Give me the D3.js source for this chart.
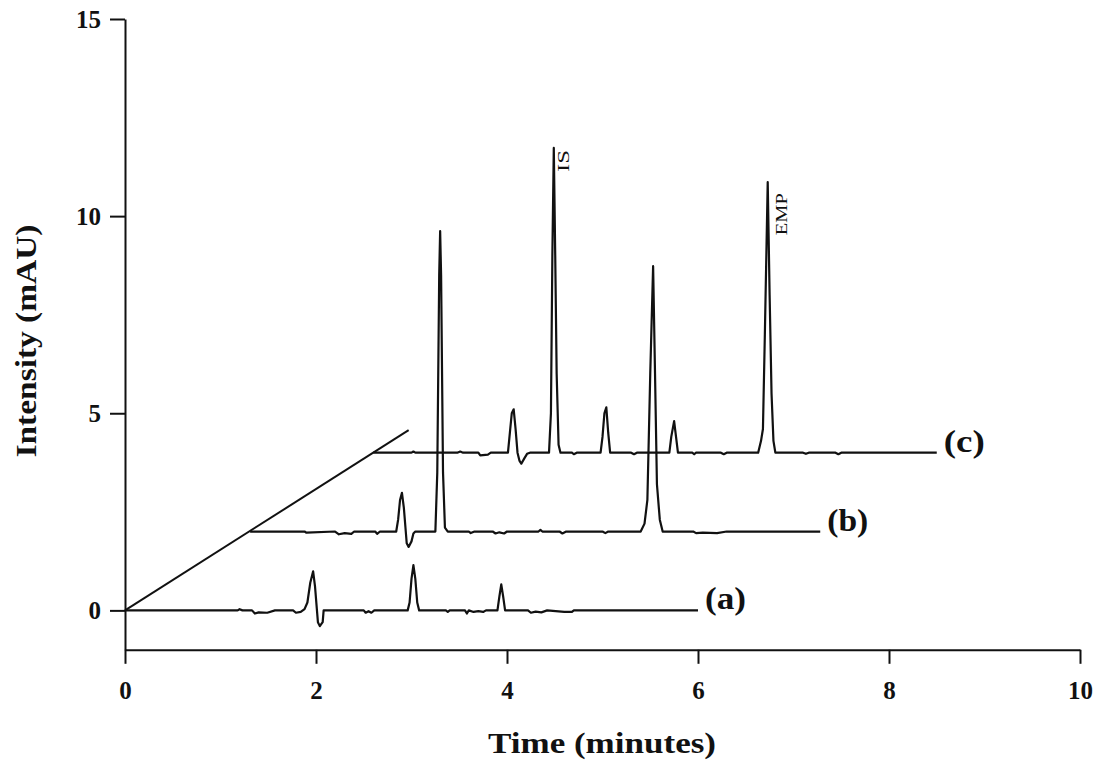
<!DOCTYPE html>
<html>
<head>
<meta charset="utf-8">
<script src="https://cdn.jsdelivr.net/npm/d3@7"></script>
<style>
  body { margin: 0; background: #fff; }
  svg text { font-family: "Liberation Serif", "Times New Roman", serif; }
</style>
</head>
<body>
<div id="chart"></div>
<script>
// chromatogram traces, plotted position [time (min), intensity (mAU)]
var traceA = [
    [0, 0], [1.18, 0], [1.2, 0.03], [1.23, 0], [1.33, 0], [1.36, -0.08], [1.4, -0.05],
    [1.49, -0.06], [1.57, 0], [1.76, 0], [1.79, -0.06], [1.84, -0.04], [1.88, 0.03],
    [1.91, 0.2], [1.94, 0.7], [1.97, 0.99], [1.99, 0.6], [2.01, 0], [2.02, -0.3],
    [2.04, -0.4], [2.07, -0.3], [2.08, 0], [2.5, 0], [2.52, -0.06], [2.55, -0.02],
    [2.58, -0.06], [2.61, 0], [2.96, 0], [2.98, 0.2], [3.0, 0.8], [3.02, 1.15],
    [3.04, 0.8], [3.06, 0.2], [3.08, 0], [3.36, 0], [3.38, -0.04], [3.4, 0],
    [3.56, 0], [3.58, -0.08], [3.6, 0], [3.65, -0.04], [3.7, -0.02], [3.75, -0.04],
    [3.78, 0], [3.9, 0], [3.92, 0.35], [3.94, 0.66], [3.96, 0.35], [3.98, 0],
    [4.22, 0], [4.25, -0.06], [4.3, -0.03], [4.36, -0.05], [4.42, 0], [4.6, -0.04],
    [4.68, -0.04], [4.7, 0], [6.0, 0]
];

var traceB = [
    [1.31, 2], [1.88, 2], [1.9, 1.97], [2.2, 2], [2.24, 1.93], [2.3, 1.96], [2.37, 1.94],
    [2.4, 2], [2.62, 2], [2.64, 1.94], [2.67, 2], [2.84, 2], [2.86, 2.3], [2.88, 2.8],
    [2.9, 2.98], [2.92, 2.6], [2.94, 2.0], [2.95, 1.7], [2.97, 1.61], [3.0, 1.75],
    [3.02, 1.95], [3.04, 2], [3.25, 2], [3.27, 3.5], [3.29, 8.5], [3.3, 9.62],
    [3.31, 8.5], [3.33, 3.5], [3.35, 2.1], [3.38, 2], [3.6, 2], [3.62, 1.96],
    [3.66, 2], [3.85, 2], [3.88, 1.95], [3.92, 1.98], [3.97, 1.95], [4.0, 2],
    [4.33, 2], [4.35, 2.04], [4.37, 2], [4.55, 2], [4.58, 1.95], [4.62, 2],
    [5.0, 2], [5.03, 1.96], [5.06, 2], [5.4, 2], [5.44, 2.2], [5.47, 2.8],
    [5.5, 6.0], [5.53, 8.73], [5.55, 6.0], [5.57, 3.2], [5.6, 2.3], [5.63, 2],
    [5.95, 2], [5.98, 1.96], [6.05, 1.97], [6.2, 1.96], [6.3, 2], [7.28, 2]
];

var traceC = [
    [2.6, 4], [3.0, 4], [3.02, 4.03], [3.04, 4], [3.48, 4], [3.51, 4.03], [3.54, 4],
    [3.7, 4], [3.72, 3.93], [3.8, 3.95], [3.83, 4], [4.01, 4], [4.03, 4.5],
    [4.05, 5.0], [4.07, 5.1], [4.09, 4.6], [4.11, 4.0], [4.13, 3.8], [4.15, 3.72],
    [4.18, 3.85], [4.21, 3.97], [4.24, 4], [4.44, 4], [4.46, 5], [4.475, 9],
    [4.49, 11.73], [4.505, 9], [4.52, 6], [4.54, 4.2], [4.56, 4], [4.68, 4],
    [4.7, 3.96], [4.73, 4], [4.98, 4], [5.0, 4.4], [5.02, 5.0], [5.04, 5.15],
    [5.06, 4.5], [5.08, 4], [5.3, 4], [5.33, 3.96], [5.36, 4], [5.7, 4],
    [5.72, 4.4], [5.75, 4.8], [5.77, 4.4], [5.79, 4], [5.94, 4], [5.96, 3.96],
    [5.98, 4], [6.24, 4], [6.27, 3.96], [6.3, 4], [6.63, 4], [6.66, 4.3],
    [6.68, 4.6], [6.7, 7.0], [6.73, 10.86], [6.75, 8.0], [6.77, 5.5], [6.79, 4.3],
    [6.81, 4], [7.1, 4], [7.13, 3.97], [7.16, 4], [7.44, 4], [7.47, 3.96], [7.5, 4],
    [8.5, 4]
];

var traces = [traceA, traceB, traceC];
var traceLabels = ["(a)", "(b)", "(c)"];

// perspective guide line joining the trace starts
var guideLine = [[0, 0], [2.97, 4.57]];

// peak annotations [time, intensity, label]
var peakNotes = [[4.49, 11.73, "IS"], [6.73, 10.86, "EMP"]];

var xTicks = [0, 2, 4, 6, 8, 10];
var yTicks = [0, 5, 10, 15];

var width = 1099, height = 760;

// the reference font runs wide, so stretch some labels to its measured length
var noteShift = [[15, 2, 22], [19, 11, 42]];   // dx, dy, text length
var labelLength = 41;

var x = d3.scaleLinear().domain([0, 10]).range([125, 1080]);
var y = d3.scaleLinear().domain([-1, 15]).range([649.8, 19]);

var svg = d3.select("#chart").append("svg")
    .attr("width", width)
    .attr("height", height);

var line = d3.line()
    .x(function (d) { return x(d[0]); })
    .y(function (d) { return y(d[1]); });

// axes
var xAxis = svg.append("g")
    .attr("transform", "translate(0," + y(-1) + ")")
    .call(d3.axisBottom(x).tickValues(xTicks).tickSize(14).tickSizeOuter(0).tickFormat(d3.format("d")));

var yAxis = svg.append("g")
    .attr("transform", "translate(" + x(0) + ",0)")
    .call(d3.axisLeft(y).tickValues(yTicks).tickSize(15).tickSizeOuter(0).tickFormat(d3.format("d")));

[xAxis, yAxis].forEach(function (g) {
    g.attr("font-size", null).attr("font-family", null);
    g.selectAll("path, line").attr("stroke", "#111").attr("stroke-width", 2);
    g.selectAll("text")
        .attr("fill", "#111")
        .attr("font-weight", "bold")
        .attr("font-size", 25);
});
xAxis.selectAll("text").attr("y", 49).attr("dy", 0);
yAxis.selectAll("text").attr("x", -24).attr("dy", "0.34em");

// traces
svg.append("path")
    .attr("d", line(guideLine))
    .attr("fill", "none")
    .attr("stroke", "#111")
    .attr("stroke-width", 2);

svg.selectAll(".trace")
    .data(traces)
    .enter()
    .append("path")
        .attr("class", "trace")
        .attr("d", line)
        .attr("fill", "none")
        .attr("stroke", "#111")
        .attr("stroke-width", 2.2)
        .attr("stroke-linejoin", "round");

// trace labels, just past each trace's end
svg.selectAll(".trace-label")
    .data(traces)
    .enter()
    .append("text")
        .attr("class", "trace-label")
        .attr("x", function (d) { return x(d[d.length - 1][0]) + 7; })
        .attr("y", function (d) { return y(d[d.length - 1][1]) - 1; })
        .attr("font-weight", "bold")
        .attr("font-size", 31)
        .attr("textLength", labelLength)
        .attr("lengthAdjust", "spacingAndGlyphs")
        .attr("fill", "#111")
        .text(function (d, i) { return traceLabels[i]; });

// peak names, rotated
svg.selectAll(".peak-note")
    .data(peakNotes)
    .enter()
    .append("text")
        .attr("class", "peak-note")
        .attr("transform", function (d, i) {
            return "translate(" + (x(d[0]) + noteShift[i][0]) + "," + (y(d[1]) + noteShift[i][1]) + ") rotate(-90)";
        })
        .attr("text-anchor", "end")
        .attr("font-size", 16)
        .attr("textLength", function (d, i) { return noteShift[i][2]; })
        .attr("lengthAdjust", "spacingAndGlyphs")
        .attr("fill", "#111")
        .text(function (d) { return d[2]; });

// axis titles
svg.append("text")
    .attr("x", 602)
    .attr("y", 753)
    .attr("text-anchor", "middle")
    .attr("font-weight", "bold")
    .attr("font-size", 29)
    .attr("textLength", 228)
    .attr("lengthAdjust", "spacingAndGlyphs")
    .attr("fill", "#111")
    .text("Time (minutes)");

svg.append("text")
    .attr("transform", "translate(36,341) rotate(-90)")
    .attr("text-anchor", "middle")
    .attr("font-weight", "bold")
    .attr("font-size", 29)
    .attr("textLength", 233)
    .attr("lengthAdjust", "spacingAndGlyphs")
    .attr("fill", "#111")
    .text("Intensity (mAU)");
</script>
</body>
</html>
